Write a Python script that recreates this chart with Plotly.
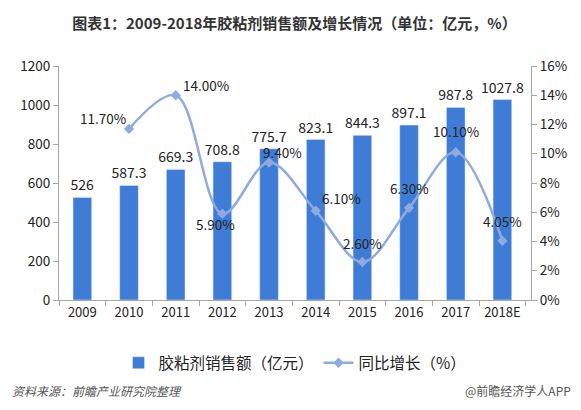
import plotly.graph_objects as go

years = ["2009", "2010", "2011", "2012", "2013", "2014", "2015", "2016", "2017", "2018E"]
sales = [526, 587.3, 669.3, 708.8, 775.7, 823.1, 844.3, 897.1, 987.8, 1027.8]
growth_years = years[1:]
growth = [11.70, 14.00, 5.90, 9.40, 6.10, 2.60, 6.30, 10.10, 4.05]

bar_color = "#3f7cd5"
line_color = "#8eaade"
font_family = "Noto Sans CJK SC, Microsoft YaHei, sans-serif"

fig = go.Figure()

fig.add_trace(go.Bar(
    x=years,
    y=sales,
    name="胶粘剂销售额（亿元）",
    marker_color=bar_color,
    text=[f"{v:g}" for v in sales],
    textposition="outside",
    constraintext="none",
    textfont=dict(size=14, color="#222222"),
    cliponaxis=False,
))

fig.add_trace(go.Scatter(
    x=growth_years,
    y=growth,
    name="同比增长（%）",
    yaxis="y2",
    mode="lines+markers",
    line=dict(color=line_color, width=2.5, shape="spline", smoothing=1.0),
    marker=dict(symbol="diamond", size=8, color=line_color),
    cliponaxis=False,
))

# pixel offsets of the % labels from their points, picked by eye
label_dx = [-26, 30, -7, 13, 26, 0, 0, 0, 0]
label_dy = [11, 10, -10, 11, 13, 19, 20, 21, 20]
for yr, v, dx, dy in zip(growth_years, growth, label_dx, label_dy):
    # category axis: place by category index (labels look numeric)
    fig.add_annotation(
        x=years.index(yr), y=v, xref="x", yref="y2",
        text=f"{v:.2f}%",
        showarrow=False,
        xshift=dx, yshift=dy,
        font=dict(size=13.5, color="#222222"),
    )

# page has ~8px body margin, so the figure is a bit smaller than the window
fig.update_layout(
    width=573,
    height=402,
    margin=dict(l=49, r=50, t=58, b=110),
    paper_bgcolor="white",
    plot_bgcolor="white",
    font=dict(family=font_family, size=13.5, color="#222222"),
    bargap=0.6,
    title=dict(
        text="<b>图表1：2009-2018年胶粘剂销售额及增长情况（单位：亿元，%）</b>",
        xref="container", yref="container",
        x=0.5, xanchor="center", y=0.962, yanchor="middle",
        font=dict(size=15, color="#333333"),
    ),
    xaxis=dict(
        type="category",
        showline=True, linecolor="#a6a6a6",
        ticks="outside", tickson="boundaries", ticklen=5, tickcolor="#a6a6a6",
        showgrid=False,
        tickangle=0,
        tickfont=dict(size=13),
    ),
    yaxis=dict(
        range=[0, 1200], dtick=200,
        showline=True, linecolor="#a6a6a6",
        ticks="outside", ticklen=5, tickcolor="#a6a6a6",
        showgrid=False, zeroline=False,
        tickfont=dict(size=13.5),
    ),
    yaxis2=dict(
        overlaying="y", side="right",
        range=[0, 16], dtick=2, ticksuffix="%",
        showline=True, linecolor="#a6a6a6",
        ticks="outside", ticklen=5, tickcolor="#a6a6a6",
        showgrid=False, zeroline=False,
        tickfont=dict(size=13.5),
    ),
    legend=dict(
        orientation="h",
        x=0.5, xanchor="center",
        y=-0.27, yanchor="middle",
        font=dict(size=15.5),
        itemwidth=30,
    ),
    showlegend=True,
)

fig.add_annotation(
    text="<i>资料来源：前瞻产业研究院整理</i>",
    xref="paper", yref="paper",
    x=-0.103, y=-0.385, xanchor="left", yanchor="middle",
    showarrow=False,
    font=dict(size=12, color="#555555"),
)
fig.add_annotation(
    text="@前瞻经济学人APP",
    xref="paper", yref="paper",
    x=1.09, y=-0.385, xanchor="right", yanchor="middle",
    showarrow=False,
    font=dict(size=12, color="#555555"),
)

fig.write_html("out.html")
